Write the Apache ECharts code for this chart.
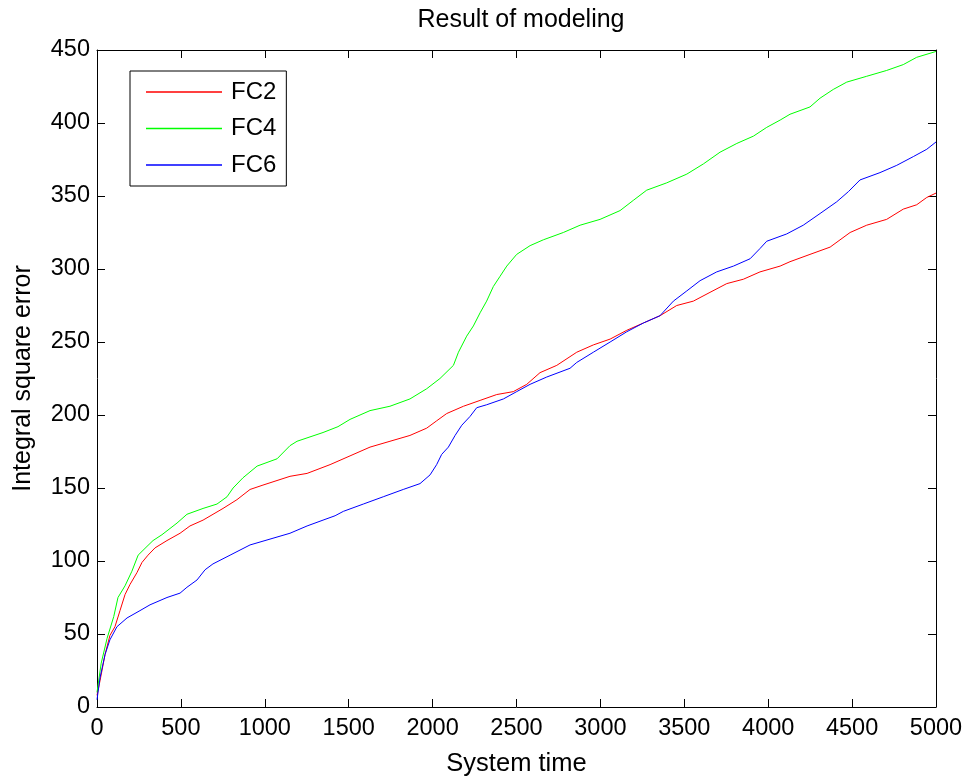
<!DOCTYPE html>
<html>
<head>
<meta charset="utf-8">
<title>Result of modeling</title>
<script src="https://cdn.jsdelivr.net/npm/echarts@6/dist/echarts.min.js"></script>
<style>
  html, body { margin: 0; padding: 0; background: #fff; }
  #main { width: 969px; height: 782px; }
</style>
</head>
<body>
<div id="main"></div>
<script>
(function() {
  'use strict';

  // x ticks / y ticks
  var xTicks = [0, 500, 1000, 1500, 2000, 2500, 3000, 3500, 4000, 4500, 5000];
  var yTicks = [0, 50, 100, 150, 200, 250, 300, 350, 400, 450];

  var seriesNames = ['FC2', 'FC4', 'FC6'];

  // [system time, integral square error]
  var fc2 = [
    [0, 8], [18, 18], [48, 36], [77, 49], [107, 55], [137, 66], [167, 77], [197, 84],
    [238, 92], [268, 99], [304, 104], [346, 109], [417, 114], [495, 119], [554, 124],
    [632, 128], [751, 136], [834, 142], [912, 149], [989, 152], [1150, 158], [1252, 160],
    [1389, 166], [1508, 172], [1627, 178], [1746, 182], [1865, 186], [1965, 191],
    [2024, 196], [2084, 201], [2184, 206], [2283, 210], [2382, 214], [2481, 216],
    [2561, 221], [2640, 229], [2740, 234], [2859, 243], [2958, 248], [3058, 252],
    [3157, 258], [3256, 263], [3355, 268], [3455, 275], [3554, 278], [3653, 284],
    [3753, 290], [3852, 293], [3951, 298], [4071, 302], [4130, 305], [4249, 310],
    [4369, 315], [4488, 325], [4587, 330], [4706, 334], [4805, 341], [4885, 344],
    [4945, 349], [5000, 352]
  ];

  var fc4 = [
    [0, 10], [25, 30], [60, 47], [100, 62], [125, 75], [167, 83], [208, 93], [245, 104],
    [298, 110], [334, 114], [387, 118], [477, 126], [536, 132], [632, 136], [715, 139],
    [775, 144], [811, 150], [870, 157], [954, 165], [1073, 170], [1150, 179], [1192, 182],
    [1347, 188], [1436, 192], [1508, 197], [1627, 203], [1746, 206], [1865, 211],
    [1965, 218], [2044, 225], [2124, 234], [2154, 243], [2203, 254], [2243, 261],
    [2283, 270], [2322, 278], [2362, 288], [2402, 295], [2442, 302], [2501, 310],
    [2581, 316], [2660, 320], [2779, 325], [2879, 330], [2998, 334], [3117, 340],
    [3196, 347], [3276, 354], [3395, 359], [3515, 365], [3614, 372], [3713, 380],
    [3813, 386], [3912, 391], [3991, 397], [4071, 402], [4130, 406], [4249, 411],
    [4309, 417], [4388, 423], [4468, 428], [4587, 432], [4706, 436], [4805, 440],
    [4885, 445], [5000, 449]
  ];

  var fc6 = [
    [0, 5], [18, 20], [48, 36], [77, 46], [119, 55], [179, 61], [256, 66], [316, 70],
    [417, 75], [495, 78], [536, 82], [596, 87], [644, 94], [691, 98], [793, 104],
    [912, 111], [1031, 115], [1150, 119], [1252, 124], [1347, 128], [1419, 131],
    [1468, 134], [1587, 139], [1706, 144], [1825, 149], [1925, 153], [1985, 159],
    [2024, 166], [2054, 173], [2094, 178], [2134, 186], [2174, 193], [2223, 199],
    [2263, 205], [2322, 207], [2422, 211], [2501, 216], [2581, 221], [2680, 226],
    [2819, 232], [2859, 236], [2958, 243], [3058, 250], [3157, 257], [3256, 263],
    [3355, 268], [3435, 278], [3515, 285], [3594, 292], [3693, 298], [3793, 302],
    [3892, 307], [3951, 314], [3991, 319], [4110, 324], [4209, 330], [4309, 338],
    [4408, 346], [4478, 353], [4547, 361], [4666, 366], [4766, 371], [4865, 377],
    [4945, 382], [5000, 387]
  ];

  var colors = ['#ff0000', '#00ff00', '#0000ff'];
  var font = 'Liberation Sans, Arial, sans-serif';

  var myChart = echarts.init(document.getElementById('main'), null, { renderer: 'canvas' });

  function plain(v) { return String(v); } // no 1,000 separators

  // matlab style box: ticks inside on all 4 sides
  function xAxis(pos, showLabel) {
    return {
      type: 'value',
      position: pos,
      min: xTicks[0],
      max: xTicks[xTicks.length - 1],
      interval: xTicks[1] - xTicks[0],
      name: showLabel ? 'System time' : '',
      nameLocation: 'middle',
      nameGap: 44,
      nameTextStyle: { color: '#000', fontSize: 25.5, fontFamily: font },
      axisLine: { show: true, onZero: false, lineStyle: { color: '#000', width: 1 } },
      axisTick: { show: true, inside: true, length: 8, lineStyle: { color: '#000' } },
      axisLabel: { show: showLabel, color: '#000', fontSize: 23.5, fontFamily: font, margin: 10, formatter: plain },
      splitLine: { show: false }
    };
  }

  function yAxis(pos, showLabel) {
    return {
      type: 'value',
      position: pos,
      min: yTicks[0],
      max: yTicks[yTicks.length - 1],
      interval: yTicks[1] - yTicks[0],
      name: showLabel ? 'Integral square error' : '',
      nameLocation: 'middle',
      nameGap: 61,
      nameTextStyle: { color: '#000', fontSize: 25, fontFamily: font },
      axisLine: { show: true, onZero: false, lineStyle: { color: '#000', width: 1 } },
      axisTick: { show: true, inside: true, length: 8, lineStyle: { color: '#000' } },
      axisLabel: { show: showLabel, color: '#000', fontSize: 23.5, fontFamily: font, margin: 7, formatter: plain },
      splitLine: { show: false }
    };
  }

  function line(name, data, color) {
    return {
      name: name,
      type: 'line',
      xAxisIndex: 0,
      yAxisIndex: 0,
      data: data,
      symbol: 'none',
      animation: false,
      lineStyle: { color: color, width: 1 },
      itemStyle: { color: color }
    };
  }

  var option = {
    backgroundColor: '#fff',
    animation: false,
    title: {
      text: 'Result of modeling',
      left: 516,
      textAlign: 'center',
      top: 3,
      textStyle: { color: '#000', fontSize: 25, fontWeight: 'normal', fontFamily: font }
    },
    legend: {
      data: seriesNames,
      orient: 'vertical',
      left: 130,
      top: 71,
      padding: [9, 10, 9, 16],
      itemGap: 12.5,
      itemWidth: 76,
      itemHeight: 1.5,
      icon: 'rect',
      backgroundColor: '#fff',
      borderColor: '#000',
      borderWidth: 1,
      borderRadius: 0,
      textStyle: { color: '#000', fontSize: 24, fontFamily: font, padding: [0, 0, 0, 4] }
    },
    grid: { left: 97, right: 33, top: 50, bottom: 72, containLabel: false },
    xAxis: [xAxis('bottom', true), xAxis('top', false)],
    yAxis: [yAxis('left', true), yAxis('right', false)],
    series: [
      line(seriesNames[0], fc2, colors[0]),
      line(seriesNames[1], fc4, colors[1]),
      line(seriesNames[2], fc6, colors[2])
    ]
  };

  myChart.setOption(option);
}());
</script>
</body>
</html>
